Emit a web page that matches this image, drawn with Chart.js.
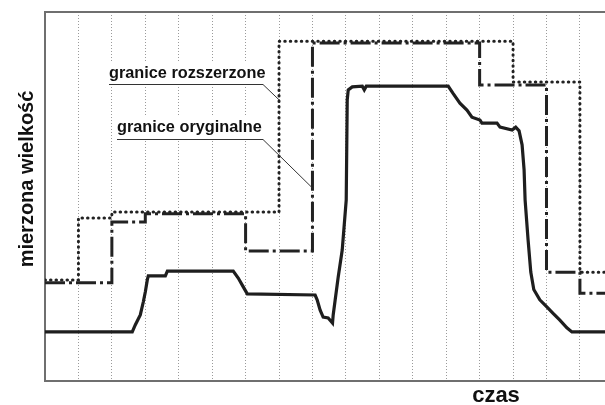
<!DOCTYPE html>
<html lang="pl">
<head>
<meta charset="utf-8">
<title>mierzona wielkość</title>
<script src="https://cdn.jsdelivr.net/npm/chart.js@4.4.1/dist/chart.umd.min.js"></script>
<style>
  html, body { margin: 0; padding: 0; background: #fff; }
  #wrap { width: 605px; height: 405px; }
</style>
</head>
<body>
<div id="wrap"><canvas id="chart" width="605" height="405"></canvas></div>
<script>
// czas w działkach siatki, wielkość w jednostkach umownych 0..100
const rozszerzoneX = [0, 1, 2, 7, 14, 16, 16.75];
const rozszerzoneY = [27.4, 44.2, 45.8, 92.1, 81.0, 29.5, 29.5];

const oryginalneX = [0, 2, 3, 6, 8, 13, 15, 16, 16.75];
const oryginalneY = [26.6, 43.1, 45.3, 35.2, 91.6, 80.2, 29.5, 23.8, 23.8];

const pomiarX = [0, 2.61, 2.70, 2.85, 2.94, 3.00, 3.06, 3.09, 3.60, 3.66, 5.63, 5.78, 5.93, 6.05,
    8.08, 8.14, 8.23, 8.32, 8.47, 8.60, 8.62, 8.68, 8.77, 8.89, 9.01, 9.04, 9.07, 9.19, 9.49, 9.55,
    9.61, 12.06, 12.20, 12.41, 12.62, 12.77, 13.01, 13.07, 13.52, 13.61, 13.97, 14.08, 14.18, 14.27,
    14.33, 14.36, 14.45, 14.53, 14.62, 14.80, 15.01, 15.19, 15.40, 15.61, 15.76, 16.75];
const pomiarY = [13.3, 13.3, 15.2, 17.9, 21.4, 24.1, 27.4, 28.5, 28.5, 29.8, 29.8, 27.9, 25.5, 23.6,
    23.3, 22.0, 19.2, 17.3, 17.1, 15.7, 17.9, 22.0, 28.2, 35.5, 49.1, 76.2, 78.9, 79.7, 79.9, 78.9,
    79.9, 79.9, 78.0, 75.3, 73.4, 71.5, 70.7, 69.9, 69.9, 68.8, 68.0, 68.8, 67.8, 64.0,
    57.2, 49.1, 38.2, 29.5, 24.8, 22.0, 20.1, 18.4, 16.5, 14.4, 13.3, 13.3];

const X_MAX = 16.75;

function punkty(xs, ys) {
    return xs.map((x, i) => ({ x: x, y: ys[i] }));
}

// opisy z podkreśleniem i linią odniesienia do krzywej
const opisy = [
    { text: 'granice rozszerzone', x: 109, y: 78, lineY: 84, lineEnd: 263, to: { x: 7, y: 76.2 } },
    { text: 'granice oryginalne', x: 117, y: 132, lineY: 139, lineEnd: 263, to: { x: 8, y: 52.3 } }
];

const opisyPlugin = {
    id: 'opisy',
    afterDraw(chart) {
        const ctx = chart.ctx;
        const sx = chart.scales.x, sy = chart.scales.y;
        ctx.save();
        ctx.font = "bold 16.3px 'Liberation Sans', Arial, sans-serif";
        ctx.textBaseline = 'alphabetic';
        opisy.forEach(o => {
            ctx.fillStyle = '#fff';
            ctx.fillRect(o.x - 1, o.y - 15, o.lineEnd - o.x + 4, o.lineY - o.y + 15);
            ctx.fillStyle = '#111';
            ctx.fillText(o.text, o.x, o.y);
            ctx.strokeStyle = '#333';
            ctx.lineWidth = 1;
            ctx.beginPath();
            ctx.moveTo(o.x, o.lineY + 0.5);
            ctx.lineTo(o.lineEnd, o.lineY + 0.5);
            ctx.lineTo(sx.getPixelForValue(o.to.x), sy.getPixelForValue(o.to.y));
            ctx.stroke();
        });

        // tytuły osi
        ctx.fillStyle = '#111';
        ctx.font = "bold 22px 'Liberation Sans', Arial, sans-serif";
        ctx.textAlign = 'center';
        ctx.fillText('czas', 496, 402);

        ctx.translate(33, 179);
        ctx.rotate(-Math.PI / 2);
        ctx.font = "bold 20px 'Liberation Sans', Arial, sans-serif";
        ctx.fillText('mierzona wielkość', 0, 0);
        ctx.restore();
    }
};

const config = {
    type: 'line',
    data: {
        datasets: [
            {
                label: 'granice rozszerzone',
                data: punkty(rozszerzoneX, rozszerzoneY),
                stepped: true,
                borderColor: '#222',
                borderWidth: 3,
                borderCapStyle: 'round',
                borderDash: [0.5, 5],
                pointRadius: 0
            },
            {
                label: 'granice oryginalne',
                data: punkty(oryginalneX, oryginalneY),
                stepped: true,
                borderColor: '#222',
                borderWidth: 3,
                borderDash: [20, 4, 3, 4],
                pointRadius: 0
            },
            {
                label: 'mierzona wielkość',
                data: punkty(pomiarX, pomiarY),
                borderColor: '#1e1e1e',
                borderWidth: 3.2,
                tension: 0,
                pointRadius: 0
            }
        ]
    },
    options: {
        responsive: false,
        animation: false,
        layout: {
            padding: { left: 45, top: 12, right: 0, bottom: 24 }
        },
        plugins: {
            legend: { display: false },
            tooltip: { enabled: false }
        },
        scales: {
            x: {
                type: 'linear',
                min: 0,
                max: X_MAX,
                afterBuildTicks: scale => {
                    const t = [];
                    for (let i = 0; i <= 16; i++) t.push({ value: i });
                    scale.ticks = t;
                },
                ticks: { display: false },
                grid: {
                    color: '#9a9a9a',
                    lineWidth: 1,
                    drawTicks: false
                },
                border: { display: true, color: '#6f6f6f', width: 2, dash: [1, 2] }
            },
            xTop: {
                type: 'linear',
                position: 'top',
                min: 0,
                max: X_MAX,
                ticks: { display: false },
                grid: { display: false, drawTicks: false },
                border: { display: true, color: '#6f6f6f', width: 2 }
            },
            y: {
                min: 0,
                max: 100,
                ticks: { display: false },
                grid: { display: false, drawTicks: false },
                border: { display: true, color: '#6f6f6f', width: 2 }
            }
        }
    },
    plugins: [opisyPlugin]
};

new Chart(document.getElementById('chart'), config);
</script>
</body>
</html>
